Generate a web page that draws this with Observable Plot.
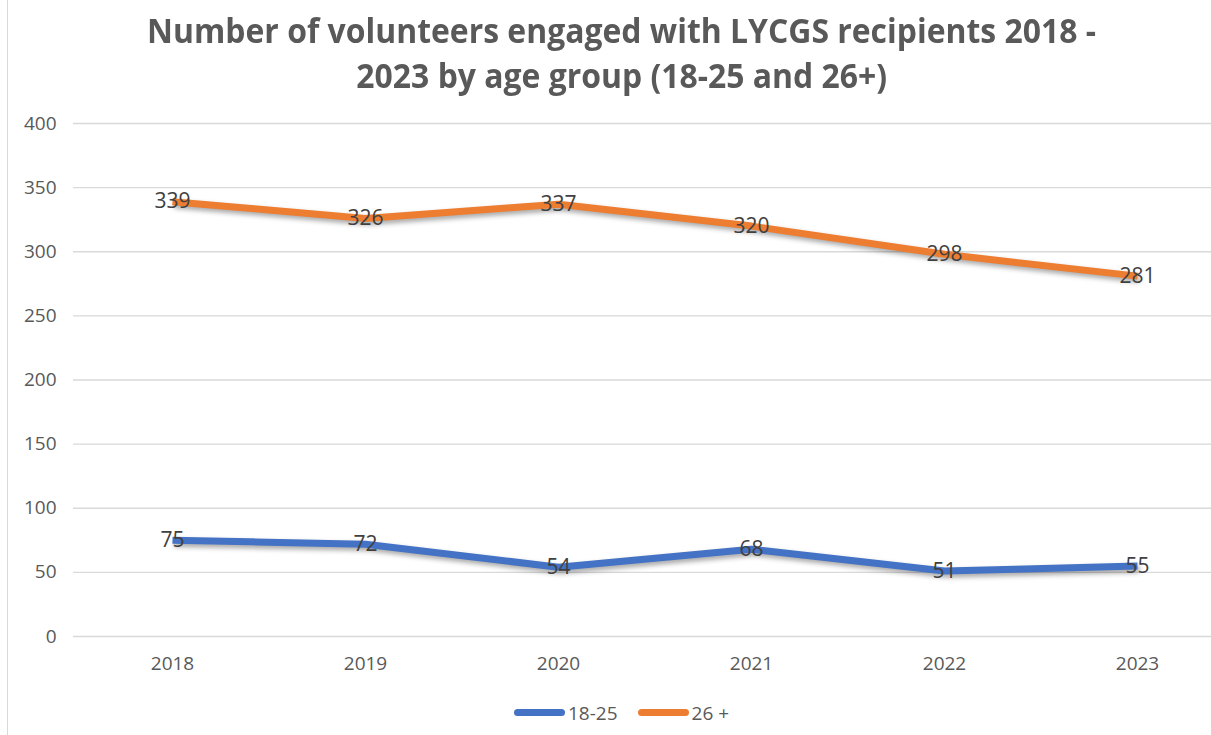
<!DOCTYPE html>
<html>
<head>
<meta charset="utf-8">
<script src="https://cdn.jsdelivr.net/npm/d3@7"></script>
<script src="https://cdn.jsdelivr.net/npm/@observablehq/plot@0.6"></script>
<style>
  html, body { margin: 0; padding: 0; background: white; overflow: hidden; width: 1211px; height: 735px; }
  #wrap { position: relative; width: 1236px; height: 735px; }
  #border { position: absolute; left: 7px; top: 0; width: 1px; height: 735px; background: #d9d9d9; }
  #title { height: 110px; box-sizing: border-box; padding-top: 8px; padding-left: 7px; text-align: center;
           font-family: "Open Sans", sans-serif; font-weight: bold;
           font-size: 34px; line-height: 45px; color: #595959; }
  #title span { display: inline-block; white-space: nowrap; transform-origin: center; }
  #legend { height: 59px; box-sizing: border-box; padding-top: 14px; padding-left: 7px; display: flex; justify-content: center; align-items: center;
            font-family: "Open Sans", sans-serif; font-size: 19px; color: #595959; gap: 20px; }
  .item { display: flex; align-items: center; gap: 3px; }
  .sw { display: inline-block; width: 51px; height: 7px; border-radius: 4px; }
  svg g[aria-label="line"] path { filter: drop-shadow(2px 3px 2.5px rgba(0,0,0,0.35)); }
</style>
</head>
<body>
<div id="wrap">
  <div id="border"></div>
  <div id="title"><span id="t1">Number of volunteers engaged with LYCGS recipients 2018 -</span><br><span id="t2">2023 by age group (18-25 and 26+)</span></div>
  <div id="chart"></div>
  <div id="legend"></div>
</div>
<script>
const years = ["2018", "2019", "2020", "2021", "2022", "2023"];
const youthValues = [75, 72, 54, 68, 51, 55];
const adultValues = [339, 326, 337, 320, 298, 281];
const seriesNames = ["18-25", "26 +"];
const seriesColors = ["#4472C4", "#ED7D31"];
const yTicks = [0, 50, 100, 150, 200, 250, 300, 350, 400];

const seriesValues = [youthValues, adultValues];
const rows = seriesNames.flatMap((s, si) => years.map((y, i) => ({series: s, year: y, value: seriesValues[si][i]})));

// condense the title to the reference's narrow face
const t1 = document.getElementById("t1");
const t2 = document.getElementById("t2");
const sc = 949 / t1.getBoundingClientRect().width;
t1.style.transform = `scaleX(${sc})`;
t2.style.transform = `scaleX(${sc})`;

const chart = Plot.plot({
  width: 1236,
  height: 566,
  marginLeft: 73,
  marginRight: 1,
  marginTop: 13,
  marginBottom: 40,
  style: {fontFamily: "Open Sans, sans-serif", fontSize: "19px", color: "#595959", background: "white", maxWidth: "none", overflow: "visible"},
  x: {type: "point", domain: years, padding: 0.5, label: null},
  y: {domain: [0, 400], label: null},
  color: {domain: seriesNames, range: seriesColors},
  marks: [
    Plot.gridY(yTicks, {stroke: "#d9d9d9", strokeOpacity: 1, strokeWidth: 1.3}),
    Plot.axisY(yTicks, {tickSize: 0, tickPadding: 17, fontSize: 19, label: null}),
    Plot.axisX({tickSize: 0, tickPadding: 20, fontSize: 19, label: null}),
    Plot.line(rows, {x: "year", y: "value", z: "series", stroke: "series", strokeWidth: 7, strokeLinecap: "butt", strokeLinejoin: "round"}),
    Plot.text(rows, {x: "year", y: "value", text: d => String(d.value), fill: "#404040", fontSize: 21})
  ]
});
document.getElementById("chart").appendChild(chart);

const legend = document.getElementById("legend");
seriesNames.forEach((name, i) => {
  const item = document.createElement("div");
  item.className = "item";
  const sw = document.createElement("span");
  sw.className = "sw";
  sw.style.background = seriesColors[i];
  const label = document.createElement("span");
  label.textContent = name;
  item.appendChild(sw);
  item.appendChild(label);
  legend.appendChild(item);
});
</script>
</body>
</html>
